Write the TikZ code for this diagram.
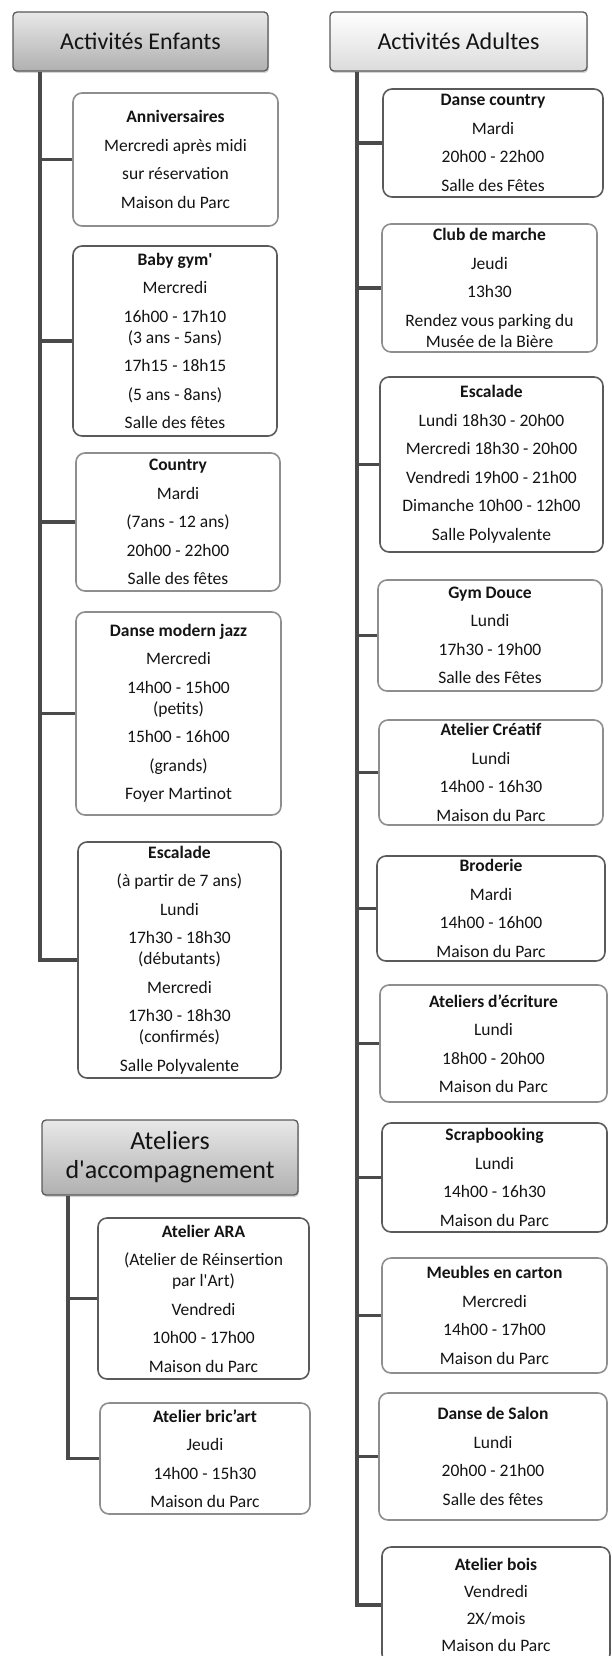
\documentclass[tikz,border=0pt]{standalone}
\usepackage{fontspec}
\setmainfont{Carlito}
\usetikzlibrary{shadows}

\definecolor{linegray}{HTML}{4A4A4A}
\definecolor{boxdark}{HTML}{5A5A5A}
\definecolor{boxlight}{HTML}{8E8E8E}
\definecolor{txtgray}{HTML}{141414}

\begin{document}
\begin{tikzpicture}[x=1pt,y=-1pt,
  act/.style={draw=boxlight, line width=1.6pt, rounded corners=9pt, fill=white,
    align=center, inner sep=0pt, text=txtgray, font=\fontsize{17.5}{21}\selectfont},
  actdk/.style={act, draw=boxdark},
  hdr/.style={draw=boxdark, line width=1.3pt, rounded corners=4pt,
    top color=gray!18, bottom color=gray!62, align=center, inner sep=0pt,
    text=txtgray, font=\fontsize{24}{29}\selectfont,
    drop shadow={shadow xshift=1pt, shadow yshift=-2pt, opacity=0.35}},
  hdrlight/.style={hdr, top color=white, bottom color=gray!28},
  trunk/.style={linegray, line width=3.5pt}]

\useasboundingbox (0,0) rectangle (611,1656);

% headers
{
\node[hdr, minimum width=255pt, minimum height=59pt] (hEnf) at (140.5,41.5) {Activités Enfants};
\node[hdrlight, minimum width=257pt, minimum height=59pt] (hAdu) at (458.5,41.5) {Activités Adultes};
\node[hdr, font=\fontsize{26}{29}\selectfont, minimum width=256pt, minimum height=75pt] (hAcc) at (170,1157.5)
{Ateliers\\d\textquotesingle accompagnement};
}

% activites enfants
{
\node[act, minimum width=205pt, minimum height=133pt] (anniv) at (175.5,159.5)
{\textbf{Anniversaires}\\[7.5pt] Mercredi après midi\\[7.5pt] sur réservation\\[7.5pt] Maison du Parc};

\node[actdk, minimum width=204pt, minimum height=190pt] (babygym) at (175,341)
{\textbf{Baby gym\textquotesingle}\\[7.5pt] Mercredi\\[7.5pt] 16h00 - 17h10\\ (3 ans - 5ans)\\[7.5pt]
17h15 - 18h15\\[7.5pt] (5 ans - 8ans)\\[7.5pt] Salle des fêtes};

\node[act, minimum width=204pt, minimum height=138pt] (country) at (178,522)
{\textbf{Country}\\[7.5pt] Mardi\\[7.5pt] (7ans - 12 ans)\\[7.5pt] 20h00 - 22h00\\[7.5pt] Salle des fêtes};

\node[act, minimum width=205pt, minimum height=203pt] (jazz) at (178.5,713.5)
{\textbf{Danse modern jazz}\\[7.5pt] Mercredi\\[7.5pt] 14h00 - 15h00\\ (petits)\\[7.5pt]
15h00 - 16h00\\[7.5pt] (grands)\\[7.5pt] Foyer Martinot};

\node[actdk, minimum width=203pt, minimum height=236pt] (escEnf) at (179.5,960)
{\textbf{Escalade}\\[7.5pt] (à partir de 7 ans)\\[7.5pt] Lundi\\[7.5pt] 17h30 - 18h30\\ (débutants)\\[7.5pt]
Mercredi\\[7.5pt] 17h30 - 18h30\\ (confirmés)\\[7.5pt] Salle Polyvalente};
}

% ateliers d'accompagnement
{
\node[actdk, minimum width=211pt, minimum height=161pt] (ara) at (203.5,1298.5)
{\textbf{Atelier ARA}\\[7.5pt] (Atelier de Réinsertion\\ par l\textquotesingle Art)\\[7.5pt]
Vendredi\\[7.5pt] 10h00 - 17h00\\[7.5pt] Maison du Parc};

\node[act, minimum width=210pt, minimum height=111pt] (bricart) at (205,1458.5)
{\textbf{Atelier bric'art}\\[7.5pt] Jeudi\\[7.5pt] 14h00 - 15h30\\[7.5pt] Maison du Parc};
}

% activites adultes
{
\node[actdk, minimum width=220pt, minimum height=108pt] (dcountry) at (493,143)
{\textbf{Danse country}\\[7.5pt] Mardi\\[7.5pt] 20h00 - 22h00\\[7.5pt] Salle des Fêtes};

\node[act, minimum width=215pt, minimum height=128pt] (marche) at (489.5,288)
{\textbf{Club de marche}\\[7.5pt] Jeudi\\[7.5pt] 13h30\\[7.5pt] Rendez vous parking du\\ Musée de la Bière};

\node[actdk, minimum width=223pt, minimum height=175pt] (escAdu) at (491.5,464.5)
{\textbf{Escalade}\\[7.5pt] Lundi 18h30 - 20h00\\[7.5pt] Mercredi 18h30 - 20h00\\[7.5pt]
Vendredi 19h00 - 21h00\\[7.5pt] Dimanche 10h00 - 12h00\\[7.5pt] Salle Polyvalente};

\node[act, minimum width=224pt, minimum height=111pt] (gym) at (490,635.5)
{\textbf{Gym Douce}\\[7.5pt] Lundi\\[7.5pt] 17h30 - 19h00\\[7.5pt] Salle des Fêtes};

\node[act, minimum width=224pt, minimum height=105pt] (creatif) at (491,772.5)
{\textbf{Atelier Créatif}\\[7.5pt] Lundi\\[7.5pt] 14h00 - 16h30\\[7.5pt] Maison du Parc};

\node[actdk, minimum width=228pt, minimum height=105pt] (broderie) at (491,908.5)
{\textbf{Broderie}\\[7.5pt] Mardi\\[7.5pt] 14h00 - 16h00\\[7.5pt] Maison du Parc};

\node[act, minimum width=227pt, minimum height=117pt] (ecriture) at (493.5,1043.5)
{\textbf{Ateliers d'écriture}\\[7.5pt] Lundi\\[7.5pt] 18h00 - 20h00\\[7.5pt] Maison du Parc};

\node[actdk, minimum width=225pt, minimum height=109pt] (scrap) at (494.5,1177.5)
{\textbf{Scrapbooking}\\[7.5pt] Lundi\\[7.5pt] 14h00 - 16h30\\[7.5pt] Maison du Parc};

\node[act, minimum width=225pt, minimum height=115pt] (meubles) at (494.5,1315.5)
{\textbf{Meubles en carton}\\[7.5pt] Mercredi\\[7.5pt] 14h00 - 17h00\\[7.5pt] Maison du Parc};

\node[act, minimum width=228pt, minimum height=127pt] (salon) at (493,1456.5)
{\textbf{Danse de Salon}\\[7.5pt] Lundi\\[7.5pt] 20h00 - 21h00\\[7.5pt] Salle des fêtes};

\node[actdk, minimum width=228pt, minimum height=116pt] (bois) at (496,1605)
{\textbf{Atelier bois}\\[6pt] Vendredi\\[6pt] 2X/mois\\[6pt] Maison du Parc};
}

% trunks
\coordinate (tEnf) at (40,0);
\coordinate (tAcc) at (68,0);
\coordinate (tAdu) at (357,0);

\draw[trunk] (hEnf.south -| tEnf) |- (escEnf.west);
\draw[trunk] (tEnf |- anniv.west) -- (anniv.west);
\draw[trunk] (tEnf |- babygym.west) -- (babygym.west);
\draw[trunk] (tEnf |- country.west) -- (country.west);
\draw[trunk] (tEnf |- jazz.west) -- (jazz.west);

\draw[trunk] (hAcc.south -| tAcc) |- (bricart.west);
\draw[trunk] (tAcc |- ara.west) -- (ara.west);

\draw[trunk] (hAdu.south -| tAdu) |- (bois.west);
\draw[trunk] (tAdu |- dcountry.west) -- (dcountry.west);
\draw[trunk] (tAdu |- marche.west) -- (marche.west);
\draw[trunk] (tAdu |- escAdu.west) -- (escAdu.west);
\draw[trunk] (tAdu |- gym.west) -- (gym.west);
\draw[trunk] (tAdu |- creatif.west) -- (creatif.west);
\draw[trunk] (tAdu |- broderie.west) -- (broderie.west);
\draw[trunk] (tAdu |- ecriture.west) -- (ecriture.west);
\draw[trunk] (tAdu |- scrap.west) -- (scrap.west);
\draw[trunk] (tAdu |- meubles.west) -- (meubles.west);
\draw[trunk] (tAdu |- salon.west) -- (salon.west);

\end{tikzpicture}
\end{document}
